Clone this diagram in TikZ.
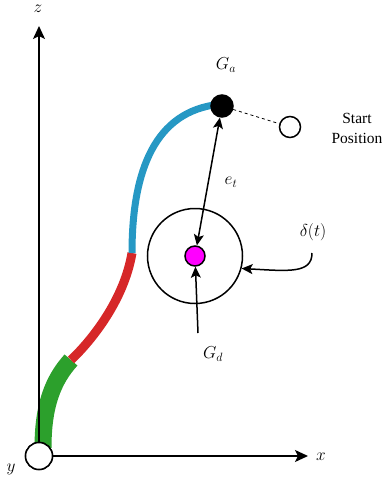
\documentclass[tikz,border=0pt]{standalone}
\usepackage{fontspec}
\usetikzlibrary{arrows.meta}
\newfontfamily\notefont{Liberation Serif}
\definecolor{seggreen}{RGB}{44,160,44}
\definecolor{segred}{RGB}{214,39,40}
\definecolor{segblue}{RGB}{38,152,196}
\definecolor{goalpink}{RGB}{255,0,255}
\begin{document}
\begin{tikzpicture}[x=1pt,y=-1pt,
   dot/.style={circle,draw,line width=1.5pt,inner sep=0pt},
   axis/.style={line width=1.6pt,-{Stealth[length=13pt,width=12pt,inset=3pt]}},
   pointer/.style={line width=1.5pt,-{Stealth[length=11pt,width=10pt,inset=2.5pt]}},
   lbl/.style={font=\fontsize{18}{20}\selectfont},
   segment/.style={line cap=butt}]
   \useasboundingbox (0,0) rectangle (385,483);

   % robot segments
   \draw[segment,seggreen,line width=17pt] (43,448) .. controls (43,405) and (53,380) .. (71,360);
   \draw[segment,segred,line width=9pt]    (71,360) .. controls (92,340) and (124,300) .. (132,253);
   \draw[segment,segblue,line width=7pt]   (132,253) .. controls (132,180) and (150,115) .. (214,105);

   % axes
   \node[dot,fill=white,minimum size=27pt] (O) at (39,456) {};
   \coordinate (ztip) at (39,26);
   \coordinate (xtip) at (308,456);
   \draw[axis] (O.north) -- (ztip);
   \draw[axis] (O.east) -- (xtip);
   \node[dot,fill=white,minimum size=27pt] at (O) {};
   \node[lbl] (zlbl) at (38,9) {$z$};
   \node[lbl] (xlbl) at (321,457) {$x$};
   \node[lbl] (ylbl) at (11,469) {$y$};

   % end effector and start
   \node[dot,fill=black,minimum size=22pt] (Ga) at (222,106) {};
   \node[lbl] (Galbl) at (226,65) {$G_a$};
   \node[dot,fill=white,minimum size=21pt] (start) at (290,127) {};
   \draw[dashed,line width=0.8pt] (Ga) -- (start);
   \node[align=center,font=\notefont\fontsize{15.5}{20}\selectfont] (startlbl) at (357,128) {Start\\Position};

   % goal and tolerance
   \node[circle,draw,line width=1.5pt,minimum size=95pt,inner sep=0pt] (tol) at (195,256) {};
   \node[dot,fill=goalpink,minimum size=20pt] (Gd) at (195,256) {};
   \draw[pointer,{Stealth[length=11pt,width=10pt,inset=2.5pt]}-{Stealth[length=11pt,width=10pt,inset=2.5pt]}] (Ga) -- (Gd);
   \node[lbl] (etlbl) at (231,182) {$e_t$};

   \node[lbl] (Gdlbl) at (213,354) {$G_d$};
   \coordinate (gdtail) at (198,333);
   \draw[pointer] (gdtail) -- (Gd);

   \node[lbl] (deltalbl) at (313,232) {$\delta(t)$};
   \coordinate (dtail) at (312,253);
   \draw[pointer] (dtail) .. controls (312,274) and (288,271) .. (tol.-15);
\end{tikzpicture}
\end{document}
